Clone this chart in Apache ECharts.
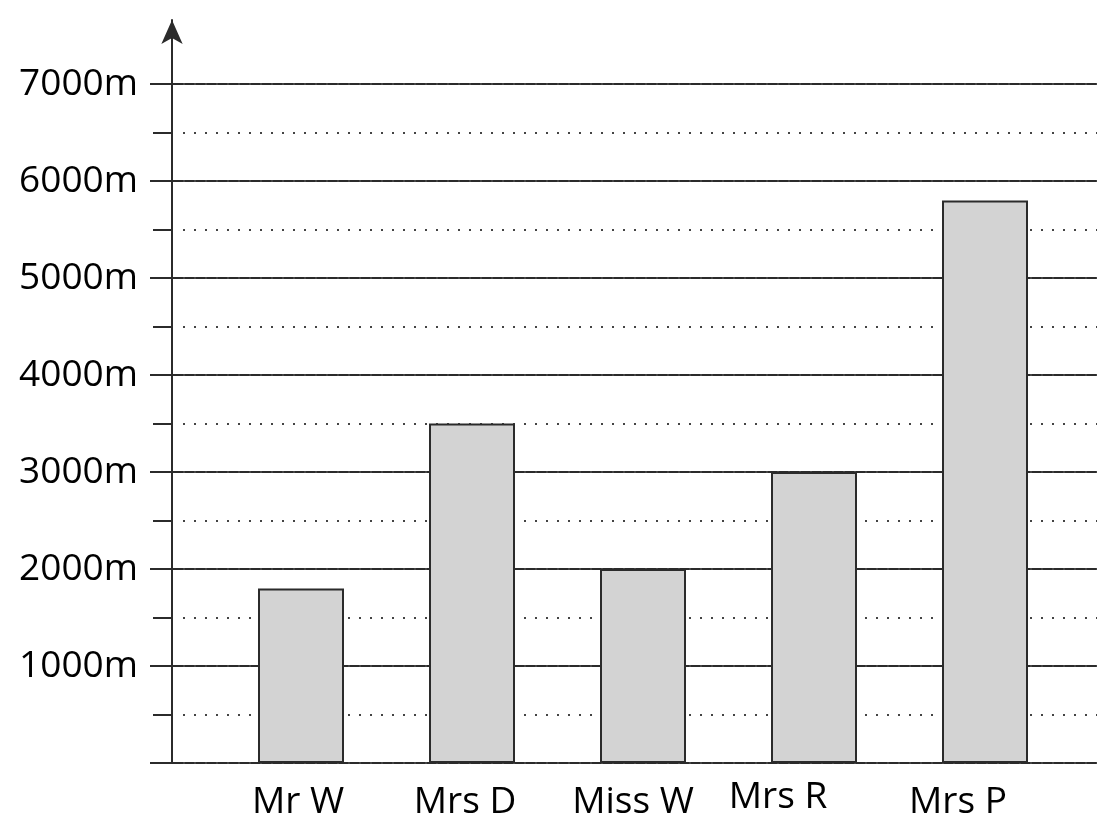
<!DOCTYPE html>
<html>
<head>
<meta charset="utf-8">
<script src="https://cdn.jsdelivr.net/npm/echarts@6/dist/echarts.min.js"></script>
<style>
html,body{margin:0;padding:0;background:#fff;}
#chart{width:1097px;height:818px;}
</style>
</head>
<body>
<div id="chart"></div>
<script>
// ---- data ----
const categories = ['Mr W', 'Mrs D', 'Miss W', 'Mrs R', 'Mrs P'];
const distances = [1800, 3500, 2000, 3000, 5800];
const yMin = 0;
const yMax = 7000;
const majorStep = 1000;
const minorStep = 500;
const unitSuffix = 'm';

// ---- style-only tweaks (label nudges in px) ----
const labelNudge = {'Mr W': 3, 'Mrs D': 7, 'Miss W': 10, 'Mrs R': 36, 'Mrs P': 27};
const labelLift = {'Mrs R': 5};

const FONT = 'Open Sans';
const LINE = '#2b2b2b';

const chart = echarts.init(document.getElementById('chart'), null, {renderer: 'canvas'});

const gridBase = {containLabel: false, outerBoundsMode: 'none'};

const option = {
  backgroundColor: '#ffffff',
  animation: false,
  grid: [
    Object.assign({left: 150, right: 0, top: 84, bottom: 55}, gridBase),          // solid gridlines + labels
    Object.assign({left: 215.5, right: 26.5, top: 84, bottom: 55}, gridBase),     // bars
    Object.assign({left: 172, width: 10, top: 20, bottom: 55}, gridBase),         // vertical axis with arrow
    Object.assign({left: 172, width: 10, top: 84, bottom: 55}, gridBase),         // minor ticks
    Object.assign({left: 183, right: 0, top: 84, bottom: 55}, gridBase)           // dotted gridlines
  ],
  xAxis: [
    {gridIndex: 0, type: 'value', min: 0, max: 1, show: false},
    {
      gridIndex: 1, type: 'category', data: categories.map(c => ({
        value: c,
        textStyle: {padding: [0, 2 * (labelNudge[c] || 0), 0, 0], lineHeight: 40 - 2 * (labelLift[c] || 0)}
      })),
      axisLine: {show: false}, axisTick: {show: false},
      axisLabel: {color: '#000', fontFamily: FONT, fontSize: 37, margin: 19, lineHeight: 40}
    },
    {gridIndex: 2, type: 'value', min: 0, max: 1, show: false},
    {gridIndex: 3, type: 'value', min: 0, max: 1, show: false},
    {gridIndex: 4, type: 'value', min: 0, max: 1, show: false}
  ],
  yAxis: [
    {
      gridIndex: 0, type: 'value', min: yMin, max: yMax, interval: majorStep,
      axisLine: {show: false}, axisTick: {show: false},
      axisLabel: {
        formatter: v => v === 0 ? '' : v + unitSuffix,
        color: '#000', fontFamily: FONT, fontSize: 37, margin: 12
      },
      splitLine: {show: true, lineStyle: {color: LINE, width: 2, type: 'solid'}}
    },
    {
      gridIndex: 4, type: 'value', min: yMin, max: yMax, interval: minorStep,
      axisLine: {show: false}, axisTick: {show: false}, axisLabel: {show: false},
      splitLine: {show: true, lineStyle: {color: '#444', width: 2, type: [2, 9]}}
    },
    {gridIndex: 1, type: 'value', min: yMin, max: yMax, show: false},
    {
      gridIndex: 2, type: 'value', min: 0, max: 1,
      axisLine: {show: true, symbol: ['none', 'arrow'], symbolSize: [16, 24],
        lineStyle: {color: LINE, width: 2}},
      axisTick: {show: false}, axisLabel: {show: false}, splitLine: {show: false}
    },
    {
      gridIndex: 3, type: 'value', min: yMin, max: yMax, interval: minorStep,
      axisLine: {show: false},
      axisTick: {show: true, length: 19, lineStyle: {color: LINE, width: 2}},
      axisLabel: {show: false}, splitLine: {show: false}
    }
  ],
  series: [
    {
      type: 'bar', xAxisIndex: 1, yAxisIndex: 2,
      data: distances,
      barWidth: 86,
      itemStyle: {color: '#d3d3d3', borderColor: LINE, borderWidth: 2}
    }
  ]
};

chart.setOption(option);
</script>
</body>
</html>
